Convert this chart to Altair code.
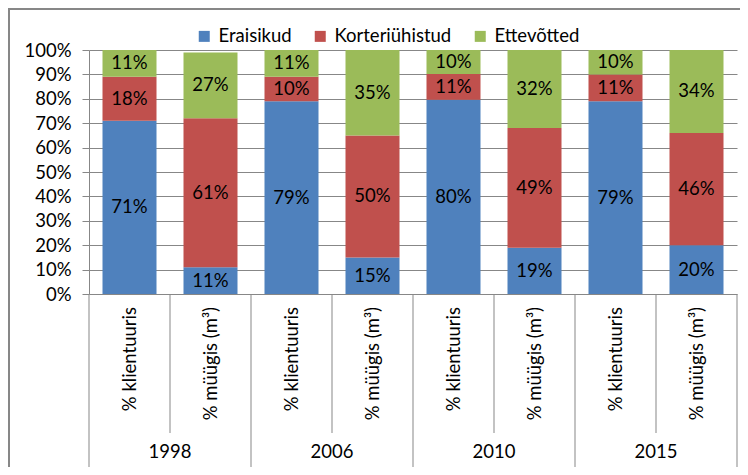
import altair as alt
import pandas as pd

years = ["1998", "2006", "2010", "2015"]
subcats = ["% klientuuris", "% müügis (m³)"]
series = ["Eraisikud", "Korteriühistud", "Ettevõtted"]
colors = ["#4F81BD", "#C0504D", "#9BBB59"]
eraisikud = [71, 11, 79, 15, 79.6, 19, 79, 20]
korteriuhistud = [18, 61, 10, 50, 10.6, 49, 11, 46]
ettevotted = [11, 27, 11, 35, 9.8, 32, 10, 34]
y_ticks = [0, 10, 20, 30, 40, 50, 60, 70, 80, 90, 100]

FONT = "Lato"
FS = 18.5
GRAY = "#878787"

rows = []
for i in range(len(eraisikud)):
    base = 0
    for k, (s, vals) in enumerate(zip(series, [eraisikud, korteriuhistud, ettevotted])):
        v = vals[i]
        rows.append(dict(pos=i, series=s, order=k, value=v,
                         y0=base, y1=base + v, mid=base + v / 2,
                         left=i + 1 / 6, right=i + 5 / 6, xc=i + 0.5,
                         label=f"{round(v)}%"))
        base += v
df = pd.DataFrame(rows)

cat_df = pd.DataFrame({"xc": [i + 0.5 for i in range(2 * len(years))],
                       "text": [subcats[i % 2] for i in range(2 * len(years))]})
year_df = pd.DataFrame({"xc": [2 * g + 1 for g in range(len(years))], "text": years})
sub_sep = pd.DataFrame({"p": [2 * g + 1 for g in range(len(years))]})
grp_sep = pd.DataFrame({"p": [2 * g for g in range(len(years) + 1)]})
dummy = pd.DataFrame({"a": [0]})

xscale = alt.Scale(domain=[0, 8], nice=False, zero=False)
yscale = alt.Scale(domain=[0, 100], nice=False)

y_axis = alt.Axis(values=y_ticks, labelExpr="datum.value + '%'",
                  grid=True, gridColor=GRAY, gridWidth=1,
                  domainColor=GRAY, domainWidth=1,
                  tickColor=GRAY, tickSize=7, tickWidth=1,
                  labelFont=FONT, labelFontSize=FS, labelColor="#000",
                  labelPadding=11, labelOverlap=False, labelFlush=False)

bars = alt.Chart(df).mark_bar().encode(
    x=alt.X("left:Q", scale=xscale, axis=None),
    x2="right:Q",
    y=alt.Y("y0:Q", scale=yscale, title=None, axis=y_axis),
    y2="y1:Q",
    color=alt.Color("series:N",
                    scale=alt.Scale(domain=series, range=colors),
                    legend=alt.Legend(orient="none", direction="horizontal",
                                      legendX=106, legendY=-23, title=None,
                                      symbolType="square", symbolSize=121,
                                      symbolStrokeWidth=0, symbolOpacity=1,
                                      labelFont=FONT, labelFontSize=FS,
                                      labelColor="#000", labelOffset=5,
                                      columnPadding=19, padding=0)),
    order=alt.Order("order:Q"),
)

labels = alt.Chart(df).mark_text(font=FONT, fontSize=FS, color="#000",
                                 align="center", baseline="middle").encode(
    x=alt.X("xc:Q", scale=xscale, axis=None),
    y=alt.Y("mid:Q", scale=yscale, title=None, axis=y_axis),
    text="label:N",
)

cat_text = alt.Chart(cat_df).mark_text(font=FONT, fontSize=FS, color="#000",
                                       angle=270, align="right",
                                       baseline="middle").encode(
    x=alt.X("xc:Q", scale=xscale, axis=None),
    y=alt.value(257),
    text="text:N",
)

year_text = alt.Chart(year_df).mark_text(font=FONT, fontSize=FS, color="#000",
                                         align="center",
                                         baseline="middle").encode(
    x=alt.X("xc:Q", scale=xscale, axis=None),
    y=alt.value(402),
    text="text:N",
)

sub_rules = alt.Chart(sub_sep).mark_rule(color=GRAY, strokeWidth=1).encode(
    x=alt.X("p:Q", scale=xscale, axis=None),
    y=alt.value(244),
    y2=alt.value(383),
)

grp_rules = alt.Chart(grp_sep).mark_rule(color=GRAY, strokeWidth=1).encode(
    x=alt.X("p:Q", scale=xscale, axis=None),
    y=alt.value(244),
    y2=alt.value(420),
)

frame_left = alt.Chart(dummy).mark_rule(color=GRAY, strokeWidth=2).encode(
    x=alt.value(-80), y=alt.value(-42), y2=alt.value(420))
frame_top = alt.Chart(dummy).mark_rule(color=GRAY, strokeWidth=2).encode(
    x=alt.value(-81), x2=alt.value(660), y=alt.value(-41))

chart = alt.layer(
    bars, labels, cat_text, year_text, sub_rules, grp_rules, frame_left, frame_top
).properties(
    width=648, height=244,
    autosize=alt.AutoSizeParams(type="none"),
    padding={"left": 81, "top": 42, "right": 3, "bottom": 173},
).configure_view(strokeWidth=0).resolve_scale(x="shared", y="shared")

chart.save("out.html", embed_options={"renderer": "svg", "actions": False})
